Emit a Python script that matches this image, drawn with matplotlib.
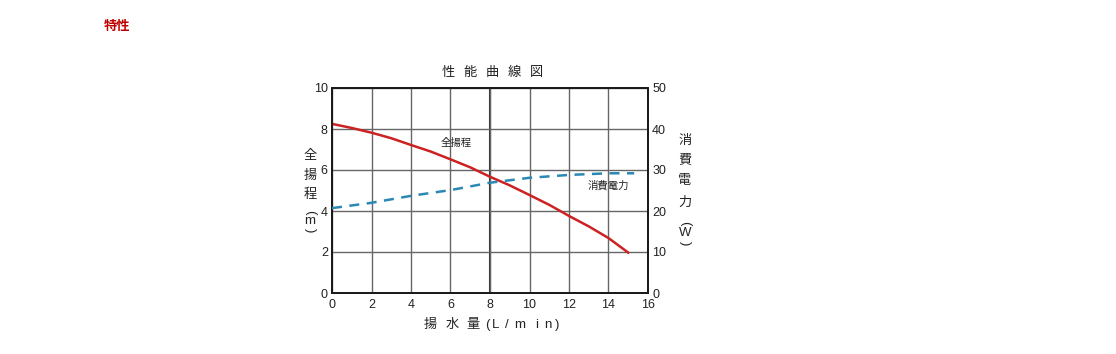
import matplotlib
matplotlib.use("Agg")
import matplotlib.pyplot as plt

plt.rcParams['font.family'] = ['Liberation Sans', 'Noto Sans CJK JP', 'DejaVu Sans']

flow_head = [0, 1, 2, 3, 4, 5, 6, 7, 8, 9, 10, 11, 12, 13, 14, 15]
head = [8.25, 8.05, 7.82, 7.55, 7.22, 6.9, 6.52, 6.13, 5.67, 5.25, 4.78, 4.3, 3.76, 3.25, 2.68, 1.97]
flow_power = [0, 2, 4, 6, 8, 10, 12, 14, 15.3]
power = [20.7, 22.0, 23.7, 25.1, 26.9, 28.1, 28.8, 29.2, 29.2]
x_ticks = [0, 2, 4, 6, 8, 10, 12, 14, 16]
y_ticks = [0, 2, 4, 6, 8, 10]
y2_ticks = [0, 10, 20, 30, 40, 50]

W, H = 1116, 354
fig = plt.figure(figsize=(W / 100, H / 100), dpi=100)
ax = fig.add_axes([332 / W, 1 - 293 / H, 316 / W, 205 / H])
ax2 = ax.twinx()

ax.set_xlim(0, 16)
ax.set_ylim(0, 10)
ax2.set_ylim(0, 50)
ax.set_xticks(x_ticks)
ax.set_yticks(y_ticks)
ax2.set_yticks(y2_ticks)
for a in (ax, ax2):
    a.tick_params(labelsize=9, length=0, pad=3, colors='#222222')
ax.tick_params(axis='x', pad=4.5)
ax.grid(True, color='#666666', linewidth=1.0)
ax.axvline(8, color='#333333', linewidth=1.5, zorder=1)
for a in (ax, ax2):
    for s in a.spines.values():
        s.set_linewidth(1.3)
        s.set_color('#1a1a1a')

ax.plot(flow_head, head, color='#cc2222', linewidth=1.8, zorder=3)
ax2.plot(flow_power, power, color='#2a88b5', linewidth=1.8, linestyle=(0, (4, 3)), zorder=3)

ax.text(6.31, 7.33, '全揚程', fontsize=7.5, ha='center', va='center', color='#222222')
ax.text(13.97, 5.22, '消費電力', fontsize=7.5, ha='center', va='center', color='#222222')

def put(x, y, s, size=9.5, rot=0):
    fig.text(x / W, 1 - y / H, s, fontsize=size, ha='center', va='center', color='#222222',
             rotation=rot, rotation_mode='anchor')

# title
for cx, ch in zip([448, 470, 492, 514, 536], '性能曲線図'):
    put(cx, 73, ch)
# x label
for cx, ch in zip([430, 452, 473, 487, 496, 507, 520, 537, 548, 557],
                  ['揚', '水', '量', '(', 'L', '/', 'm', 'i', 'n', ')']):
    put(cx, 325, ch)
# left label
for cy, ch in zip([156, 176, 195], ['全', '揚', '程']):
    put(310, cy, ch)
put(310, 212, '(', rot=-90)
put(310, 221, 'm')
put(310, 230, ')', rot=-90)
# right label
for cy, ch in zip([141, 161, 181, 203], ['消', '費', '電', '力']):
    put(685, cy, ch)
put(685, 223, '(', rot=-90)
put(685, 233, 'W')
put(685, 243, ')', rot=-90)

fig.text(104 / W, 1 - 27 / H, '特性', fontsize=9.5, ha='left', va='center', color='#c00000',
         fontweight='bold')

fig.savefig('out.png', dpi=100)
